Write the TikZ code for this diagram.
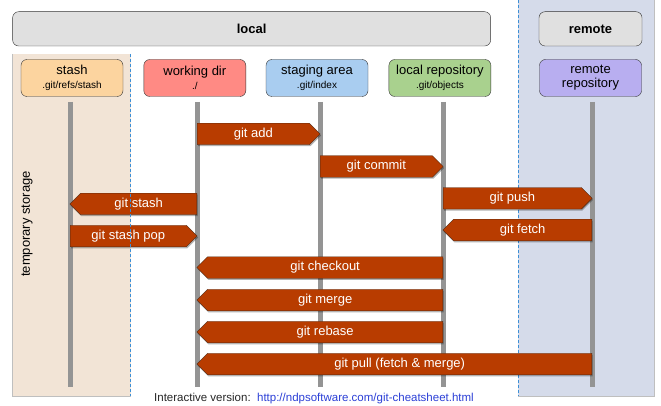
\documentclass[tikz,border=0pt]{standalone}
\usepackage{fontspec}
\setmainfont{Liberation Sans}
\usetikzlibrary{arrows,shapes,shadows}
\definecolor{boxgray}{HTML}{E0E0E0}
\definecolor{stashcol}{HTML}{FCD49F}
\definecolor{workcol}{HTML}{FF8A84}
\definecolor{stagecol}{HTML}{A9CDF0}
\definecolor{repocol}{HTML}{A9D18E}
\definecolor{remcol}{HTML}{B8AEF0}
\definecolor{tanbg}{HTML}{F2E4D6}
\definecolor{bluebg}{HTML}{D5DBEA}
\definecolor{cmdfill}{HTML}{B83C00}
\definecolor{cmdline}{HTML}{4D2A15}
\definecolor{dashblue}{HTML}{3D8FD6}
\definecolor{linkblue}{HTML}{2B3FD6}
\newcommand{\subtxt}[1]{{\fontsize{10}{12}\selectfont #1}}
\tikzstyle{area}=[draw=black!80,fill=boxgray,rounded corners=6pt,minimum height=34.3pt,inner sep=0pt,font=\bfseries\fontsize{13}{15}\selectfont]
\tikzstyle{place}=[draw=black!80,rounded corners=6pt,minimum width=102pt,minimum height=37pt,inner sep=0pt,align=center,font=\fontsize{13}{14}\selectfont]
\tikzstyle{lifeline}=[draw=black!42,line width=5pt]
\tikzstyle{border}=[draw=black!25,line width=0.8pt]
\tikzstyle{split}=[draw=dashblue,line width=0.8pt,dash pattern=on 3pt off 2pt]
\tikzstyle{command}=[signal,signal pointer angle=90,draw=cmdline,fill=cmdfill,text=white,minimum height=21.5pt,inner sep=0pt,font=\fontsize{13}{15}\selectfont,drop shadow={shadow xshift=0.8pt,shadow yshift=-1.5pt,fill=black,opacity=0.3}]

\begin{document}
\begin{tikzpicture}[x=1pt,y=-1pt]
    \useasboundingbox (0,0) rectangle (661,406);
    % Shaded areas behind the stash and the remote
    \fill[tanbg] (12.6,54) rectangle (130.6,396);
    \path[border] (12.6,54) -- (12.6,396) -- (130.6,396);
    \fill[bluebg] (518,-2) rectangle (654,396);
    \path[border] (654,-2) -- (654,396) -- (518,396);
    \path[split] (518,0) -- (518,396);

    % Headers
    \node[area,minimum width=478pt] (localhdr) at (251.65,28.85) {local};
    \node[area,minimum width=103pt] (remotehdr) at (590.5,28.85) {remote};

    % Lifelines
    \foreach \x/\name in {70/stash,197/work,320/stage,443/repo,592/remote} {
        \coordinate (\name top) at (\x,102);
        \coordinate (\name bot) at (\x,386.5);
        \path[lifeline] (\name top) -- (\name bot);
    }

    % The places
    \foreach \pos/\name/\col/\txt in {{(72,78)/stash/stashcol/{stash\\\subtxt{.git/refs/stash}}},
        {(194.8,78)/workdir/workcol/{working dir\\\subtxt{./}}},
        {(317,78)/staging/stagecol/{staging area\\\subtxt{.git/index}}},
        {(439.9,78)/localrepo/repocol/{local repository\\\subtxt{.git/objects}}},
        {(590.5,78)/remoterepo/remcol/{remote\\repository}}}
        \node[place,fill=\col] (\name) at \pos {\txt};

    \node[rotate=90,font=\fontsize{13}{15}\selectfont] (tempstore) at (27,224) {temporary storage};

    % Commands between the places (flat end sits on the source lifeline)
    \foreach \x/\y/\dir/\anc/\len/\name/\txt in {197/134/east/west/123/add/git add,
        320/166.5/east/west/123/commit/git commit,
        197/204/west/east/127/stashcmd/git stash,
        443/198.3/east/west/149/push/git push,
        70/236/east/west/127/stashpop/git stash pop,
        592/230/west/east/149/fetch/git fetch,
        443/267.5/west/east/246/checkout/git checkout,
        443/300/west/east/246/merge/git merge,
        443/332/west/east/246/rebase/git rebase,
        592/364/west/east/395/pull/git pull (fetch \& merge)}
        \node[command,signal to=\dir,anchor=\anc,minimum width=\len pt] (\name) at (\x,\y) {\txt};

    \path[split] (130.6,54) -- (130.6,396);

    \node[font=\fontsize{11.5}{13}\selectfont,text=black!85] (link) at (314,400)
        {Interactive version:\ \ \textcolor{linkblue}{\underline{http://ndpsoftware.com/git-cheatsheet.html}}};
\end{tikzpicture}
\end{document}
